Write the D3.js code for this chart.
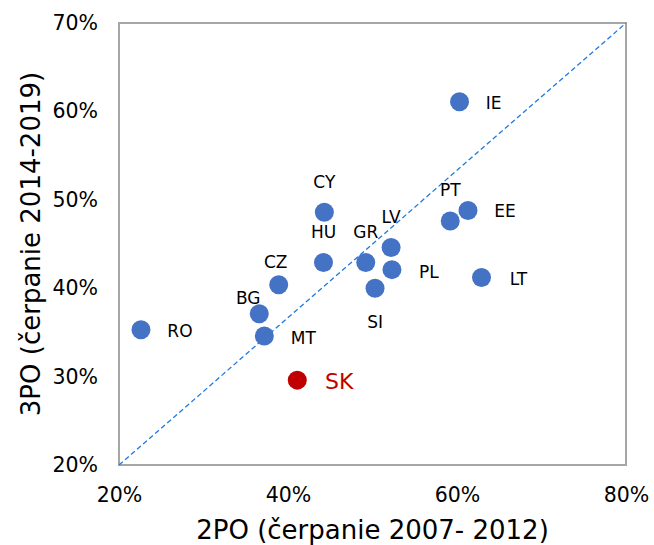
<!DOCTYPE html>
<html>
<head>
<meta charset="utf-8">
<script src="https://cdn.jsdelivr.net/npm/d3@7"></script>
<style>
  body { margin: 0; background: #fff; }
  text { font-family: "DejaVu Sans", Verdana, sans-serif; fill: #000; }
</style>
</head>
<body>
<script>
// country codes and absorption shares (%)
var countries = ["CY", "HU", "GR", "LV", "PL", "SI", "CZ", "BG", "MT", "RO", "SK", "PT", "EE", "LT", "IE"];
var po2 = [44.3, 44.2, 49.2, 52.2, 52.3, 50.3, 38.9, 36.6, 37.2, 22.6, 41.1, 59.2, 61.3, 62.9, 60.3];
var po3 = [48.6, 42.9, 42.9, 44.6, 42.1, 40.0, 40.4, 37.1, 34.6, 35.3, 29.6, 47.6, 48.8, 41.2, 61.1];
var highlight = "SK";

var xTicks = [20, 40, 60, 80];
var yTicks = [20, 30, 40, 50, 60, 70];

var width = 654, height = 545;
var margin = { top: 23, right: 28, bottom: 80, left: 119 };

var svg = d3.select("body").append("svg")
	.attr("width", width)
	.attr("height", height);

var x = d3.scaleLinear()
	.domain([20, 80])
	.range([margin.left, width - margin.right]);

var y = d3.scaleLinear()
	.domain([20, 70])
	.range([height - margin.bottom, margin.top]);

// plot border
svg.append("rect")
	.attr("x", x(20))
	.attr("y", y(70))
	.attr("width", x(80) - x(20))
	.attr("height", y(20) - y(70))
	.attr("fill", "none")
	.attr("stroke", "#a6a6a6")
	.attr("stroke-width", 2);

// diagonal reference line
svg.append("line")
	.attr("x1", x(20)).attr("y1", y(20))
	.attr("x2", x(80)).attr("y2", y(70))
	.attr("stroke", "#1f7ae0")
	.attr("stroke-width", 1.3)
	.attr("stroke-dasharray", "5,3");

// axes
var fmt = function(d) { return d + "%"; };

var xAxis = svg.append("g")
	.attr("transform", "translate(0," + y(20) + ")")
	.call(d3.axisBottom(x).tickValues(xTicks).tickFormat(fmt).tickSize(0).tickPadding(22));
xAxis.select(".domain").remove();
xAxis.selectAll("text").style("font-size", "20.5px").attr("font-family", null);

var yAxis = svg.append("g")
	.attr("transform", "translate(" + x(20) + ",0)")
	.call(d3.axisLeft(y).tickValues(yTicks).tickFormat(fmt).tickSize(0).tickPadding(21));
yAxis.select(".domain").remove();
yAxis.selectAll("text").style("font-size", "20.5px").attr("font-family", null);

// axis titles
svg.append("text")
	.attr("x", (x(20) + x(80)) / 2)
	.attr("y", 530)
	.attr("text-anchor", "middle")
	.attr("dominant-baseline", "central")
	.style("font-size", "26px")
	.text("2PO (čerpanie 2007- 2012)");

svg.append("text")
	.attr("transform", "translate(31," + (y(20) + y(70)) / 2 + ") rotate(-90)")
	.attr("text-anchor", "middle")
	.attr("dominant-baseline", "central")
	.style("font-size", "26px")
	.text("3PO (čerpanie 2014-2019)");

// where each label sits relative to its point
var labelOffset = {
	CY: [0, -30], HU: [0, -31], GR: [0, -31], LV: [0, -31], PT: [0, -31],
	CZ: [-3, -23], BG: [-11, -16], EE: [37, 1], PL: [37, 2], LT: [37, 1],
	RO: [39, 1], MT: [39, 2], SK: [42, 1], SI: [0, 34], IE: [34, 1]
};

var data = countries.map(function(c, i) {
	return { name: c, x: po2[i], y: po3[i] };
});

var pts = svg.append("g").selectAll("g")
	.data(data)
	.enter().append("g")
	.attr("transform", function(d) {
		return "translate(" + x(d.x) + "," + y(d.y) + ")";
	});

pts.append("circle")
	.attr("r", 9.5)
	.attr("fill", function(d) { return d.name == highlight ? "#c00000" : "#4472c4"; });

pts.append("text")
	.attr("x", function(d) { return labelOffset[d.name][0]; })
	.attr("y", function(d) { return labelOffset[d.name][1]; })
	.attr("text-anchor", "middle")
	.attr("dominant-baseline", "central")
	.style("font-size", function(d) { return d.name == highlight ? "22px" : "17px"; })
	.style("fill", function(d) { return d.name == highlight ? "#c00000" : "#000"; })
	.text(function(d) { return d.name; });
</script>
</body>
</html>
